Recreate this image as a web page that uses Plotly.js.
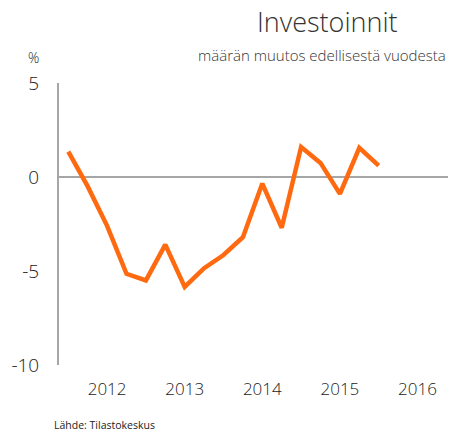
<!DOCTYPE html>
<html>
<head>
<meta charset="utf-8">
<script src="https://cdn.plot.ly/plotly-3.0.1.min.js"></script>
<style>html,body{margin:0;padding:0;background:#fff;}#chart{width:460px;height:433px;}</style>
</head>
<body>
<div id="chart"></div>
<script>
// Quarterly data, starting 2011 Q3 (x as decimal year)
const quarters = [2011.5, 2011.75, 2012.0, 2012.25, 2012.5, 2012.75, 2013.0, 2013.25, 2013.5,
                  2013.75, 2014.0, 2014.25, 2014.5, 2014.75, 2015.0, 2015.25, 2015.5];
const investChange = [1.35, -0.5, -2.6, -5.15, -5.5, -3.6, -5.85, -4.85, -4.15,
                      -3.2, -0.35, -2.7, 1.6, 0.75, -0.9, 1.55, 0.6];
const yearTicks = [2012, 2013, 2014, 2015, 2016];
const yearLabels = ["2012", "2013", "2014", "2015", "2016"];
const yTicks = [-10, -5, 0, 5];
const yLabels = ["-10", "-5", "0", "5"];

const FONT = "Open Sans, Roboto, sans-serif";
const trace = {
  x: quarters, y: investChange, type: "scatter", mode: "lines",
  line: {color: "#ff6a10", width: 4.5}, hoverinfo: "skip"
};
const layout = {
  width: 460, height: 433,
  margin: {l: 59, r: 12, t: 83, b: 68},
  paper_bgcolor: "#fff", plot_bgcolor: "#fff",
  showlegend: false,
  font: {family: FONT, color: "#222"},
  xaxis: {
    range: [2011.38, 2016.393], tickvals: yearTicks, ticktext: yearLabels,
    showgrid: false, zeroline: false, showline: false,
    ticks: "outside", ticklen: 9, tickcolor: "rgba(0,0,0,0)",
    tickfont: {size: 17, family: FONT, color: "#1a1a1a", weight: 300}
  },
  yaxis: {
    range: [-10, 5], tickvals: yTicks, ticktext: yLabels,
    showgrid: false, zeroline: true, zerolinecolor: "#a6a6a6", zerolinewidth: 2,
    showline: true, linecolor: "#a6a6a6", linewidth: 2,
    ticks: "outside", ticklen: 14, tickcolor: "rgba(0,0,0,0)",
    tickfont: {size: 19, family: FONT, color: "#1a1a1a", weight: 300}
  },
  annotations: [
    {text: "Investoinnit", showarrow: false,
     font: {size: 27, family: FONT, color: "#333", weight: 300}, xanchor: "center", yanchor: "middle"},
    {text: "määrän muutos edellisestä vuodesta", showarrow: false,
     font: {size: 15, family: FONT, color: "#333", weight: 300}, xanchor: "right", yanchor: "middle"},
    {text: "%", showarrow: false, font: {size: 14, family: FONT, color: "#222", weight: 300}, xanchor: "center", yanchor: "middle"},
    {text: "Lähde: Tilastokeskus", showarrow: false, font: {size: 10.5, family: FONT, color: "#222"}, xanchor: "left", yanchor: "middle"}
  ]
};
// Convert pixel positions for annotations to paper coords
const pw = 460 - 59 - 12, ph = 433 - 83 - 68;
function px(x) { return (x - 59) / pw; }
function py(y) { return (433 - 68 - y) / ph; }
const pos = [[327, 22], [448, 55], [33, 58], [52, 425]];
layout.annotations.forEach((a, i) => { a.xref = "paper"; a.yref = "paper"; a.x = px(pos[i][0]); a.y = py(pos[i][1]); });
Plotly.newPlot("chart", [trace], layout, {displayModeBar: false, staticPlot: true});
</script>
</body>
</html>
